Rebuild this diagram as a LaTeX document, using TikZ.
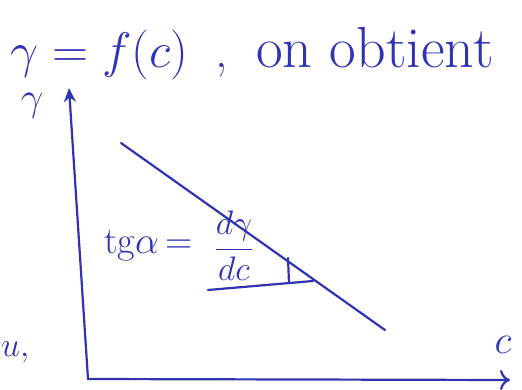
\RequirePackage{fix-cm}
\documentclass[tikz,border=0pt]{standalone}
\usetikzlibrary{arrows.meta}
\definecolor{ink}{RGB}{48,52,178}
\begin{document}
\begin{tikzpicture}[x=1pt,y=-1pt,
  inkline/.style={draw=ink,line width=2.2pt,line cap=round,line join=round},
  inktext/.style={text=ink,inner sep=0pt}]
\useasboundingbox[fill=white] (0,0) rectangle (522,390);
% title
\node[inktext,anchor=base west,font=\fontsize{50}{56}\selectfont] (title) at (10,68) {$\gamma = f(c)$};
\node[inktext,anchor=base west,font=\fontsize{50}{56}\selectfont] (comma) at (215,68) {,};
\node[inktext,anchor=base west,font=\fontsize{58}{64}\selectfont] (obt) at (256,68) {on obtient};
% axes
\coordinate (O) at (88,379);
\coordinate (Ytop) at (69,88);
\coordinate (Xend) at (510,380);
\draw[inkline,-{Stealth[length=14pt,width=12pt]}] (O) -- (Ytop);
\draw[inkline,-{To[length=10pt,width=20pt]}] (O) -- (Xend);
% axis labels
\node[inktext,font=\fontsize{40}{46}\selectfont] (ylab) at (32,106) {$\gamma$};
\node[inktext,font=\fontsize{40}{46}\selectfont] (xlab) at (503,345) {$c$};
\node[inktext,anchor=west,font=\fontsize{34}{40}\selectfont] (ulab) at (1,352) {$u,$};
% diagonal line
\coordinate (D1) at (121,143);
\coordinate (D2) at (385,330);
\draw[inkline] (D1) -- (D2);
% slope annotation
\node[inktext,anchor=west,font=\fontsize{38}{44}\selectfont] (tg) at (104,246) {tg$\alpha$\,=};
\node[inktext,anchor=center,font=\fontsize{34}{40}\selectfont] (frac) at (234,246) {$\displaystyle\frac{d\gamma}{dc}$};
% small triangle
\coordinate (T1) at (208,290);
\coordinate (T2) at (313,281);
\coordinate (T3) at (288,258);
\coordinate (T4) at (289,283);
\draw[inkline] (T1) -- (T2);
\draw[inkline] (T3) -- (T4);
\end{tikzpicture}
\end{document}
